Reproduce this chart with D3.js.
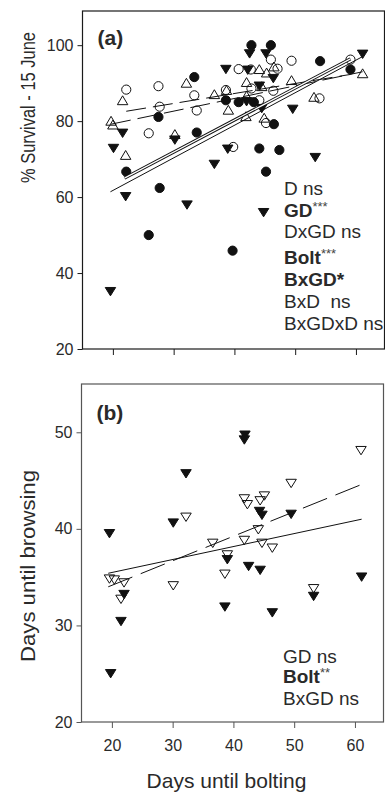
<!DOCTYPE html>
<html><head><meta charset="utf-8">
<script src="https://cdn.jsdelivr.net/npm/d3@7"></script>
<style>body{margin:0;background:#fff} svg{display:block}</style>
</head><body>
<svg id="c" width="385" height="792"></svg>
<script>
// ---------- data ----------
const xTickValues = [20, 30, 40, 50, 60];
const yTicksA = [20, 40, 60, 80, 100];
const yTicksB = [20, 30, 40, 50];

// Panel (a): % survival vs days until bolting
const filledCirclesA = [[22.2,66.7],[25.9,50],[27.5,81.1],[27.7,62.4],[33.4,91.6],[33.8,77],[38.6,85.5],[39.7,45.9],[40.7,85],[42.8,100],[43.2,85],[44.1,72.8],[45.2,66.7],[46,100],[46.5,79.2],[47.4,72.4],[54.1,95.8],[59.1,93.6]];
const openCirclesA = [[22.2,88.3],[25.9,76.8],[27.5,89.2],[27.7,83.8],[33.4,86.8],[33.8,82.8],[38.6,88.2],[39.8,73.2],[40.7,93.7],[42.7,93.6],[42.8,88.6],[44.1,85.5],[45.2,79.5],[46,96.2],[46.4,88],[47.1,93.8],[49.4,95.9],[54,86],[59.1,96.2]];
const openTrianglesA = [[19.7,80.1],[20.0,79.1],[22.1,71.1],[21.6,85.5],[30.2,76.6],[32.1,90.1],[36.7,87.1],[38.7,88.2],[39,83],[42,90.3],[42,86.7],[41.9,81.3],[44.1,93.7],[44.5,89.2],[44.9,80.9],[45.3,92.8],[46.5,94.4],[49.4,90.8],[53.1,86.4],[61.1,92.6]];
const filledTrianglesA = [[19.6,35.1],[20.1,72.8],[21.6,76.8],[22.1,60.1],[30.2,75],[32.2,57.9],[36.7,68.6],[38.6,93.6],[38.9,72.6],[42,85.1],[42.2,93.4],[42.5,97.7],[44.1,89.2],[44.5,83.3],[44.8,55.9],[45.2,97.7],[46.4,91.2],[49.6,83.1],[53.3,70.4],[61.1,97.6]];
const fitFilledCirclesA = [[21.9,65.0],[59.1,96.4]];
const fitFilledTrianglesA = [[19.6,61.4],[61.1,97.0]];
const fitOpenCirclesA = [[22.2,82.6],[59.1,92.3]];
const fitOpenTrianglesA = [[19.7,79.2],[61.1,93.0]];
const statsA = [
  [["D ns", false]],
  [["GD", true], ["***", false, true]],
  [["DxGD ns", false]],
  [["Bolt", true], ["***", false, true]],
  [["BxGD*", true]],
  [["BxD\u00a0\u00a0ns", false]],
  [["BxGDxD ns", false]]
];

// Panel (b): days until browsing vs days until bolting
const filledTrianglesB = [[41.9,49.7],[41.8,49.2],[32.2,45.7],[44.3,41.8],[44.7,41.4],[49.5,41.5],[30.1,40.6],[19.6,39.5],[39,36.8],[42.5,36.1],[44.4,35.7],[22,33.2],[61.1,35],[53.2,33],[38.6,31.9],[46.4,31.3],[21.5,30.4],[19.8,25]];
const openTrianglesB = [[61,48.1],[49.5,44.7],[41.8,43.1],[42.3,42.5],[44.4,42.9],[45.1,43.4],[32.2,41.2],[44.1,39.9],[36.6,38.5],[41.8,38.8],[44.7,38.5],[46.4,38],[39,37.3],[38.6,35.3],[19.6,34.8],[20.4,34.7],[22,34.4],[21.5,32.7],[30.1,34.1],[53.2,33.8]];
const fitFilledB = [[19.4,35.4],[61.1,41.0]];
const fitOpenB = [[19.4,34.0],[61.1,44.6]];
const statsB = [
  [["GD ns", false]],
  [["Bolt", true], ["**", false, true]],
  [["BxGD ns", false]]
];

// ---------- drawing ----------
const FONT = "'Liberation Sans', Arial, Helvetica, sans-serif";
const TXT = "#2a2a2a";
const svg = d3.select("#c").style("font-family", FONT);

const triUp = { draw(ctx, size) { const hw = Math.sqrt(size)*0.58, h = hw*1.7;
  ctx.moveTo(0, -h/2); ctx.lineTo(hw, h/2); ctx.lineTo(-hw, h/2); ctx.closePath(); } };
const triDown = { draw(ctx, size) { const hw = Math.sqrt(size)*0.58, h = hw*1.6;
  ctx.moveTo(-hw, -h/2); ctx.lineTo(hw, -h/2); ctx.lineTo(0, h/2); ctx.closePath(); } };

function panel(cfg) {
  const g = svg.append("g");
  const x = d3.scaleLinear().domain([15, 64.7]).range([cfg.left, cfg.right]);
  const y = d3.scaleLinear().domain(cfg.ydom).range([cfg.bottom, cfg.top]);

  g.append("rect").attr("x", cfg.left).attr("y", cfg.top)
    .attr("width", cfg.right - cfg.left).attr("height", cfg.bottom - cfg.top)
    .attr("fill", "none").attr("stroke", cfg.frame).attr("stroke-width", 1.2);

  const ya = g.append("g").attr("transform", `translate(${cfg.left},0)`)
    .call(d3.axisLeft(y).tickValues(cfg.yticks).tickSize(5).tickPadding(4));
  ya.select(".domain").remove();
  ya.selectAll("line").attr("stroke", cfg.frame);
  ya.selectAll("text").attr("font-size", 16).attr("fill", TXT).attr("font-family", FONT);

  const xa = g.append("g").attr("transform", `translate(0,${cfg.bottom})`)
    .call(d3.axisBottom(x).tickValues(xTickValues).tickSize(6).tickPadding(12)
      .tickFormat(cfg.xlabels ? d3.format("d") : () => ""));
  xa.select(".domain").remove();
  xa.selectAll("line").attr("stroke", cfg.frame);
  xa.selectAll("text").attr("font-size", 16).attr("fill", TXT).attr("font-family", FONT);

  const line = d3.line().x(d => x(d[0])).y(d => y(d[1]));
  const sym = d3.symbol();

  cfg.series.forEach(s => {
    g.append("g").selectAll("path").data(s.data).join("path")
      .attr("transform", d => `translate(${x(d[0])},${y(d[1])})`)
      .attr("d", sym.type(s.type).size(s.size)())
      .attr("fill", s.filled ? "#111" : "none")
      .attr("stroke", "#111").attr("stroke-width", 1);
  });

  cfg.fits.forEach(f => {
    if (f.double) {
      g.append("path").attr("d", line(f.data)).attr("stroke", "#111").attr("stroke-width", 3.3).attr("fill", "none");
      g.append("path").attr("d", line(f.data)).attr("stroke", "#fff").attr("stroke-width", 1.2).attr("fill", "none");
    } else {
      g.append("path").attr("d", line(f.data)).attr("stroke", "#111").attr("stroke-width", 1)
        .attr("fill", "none").attr("stroke-dasharray", f.dash || null);
    }
  });

  g.append("text").attr("x", cfg.left + 15).attr("y", cfg.top + cfg.letterDy)
    .attr("font-size", 21).attr("font-weight", "bold").attr("fill", TXT).text(cfg.letter);

  cfg.stats.forEach((parts, i) => {
    const t = g.append("text").attr("x", cfg.statX).attr("y", cfg.statY[i])
      .attr("font-size", 19).attr("fill", TXT);
    parts.forEach(p => {
      const ts = t.append("tspan").text(p[0]).attr("font-weight", p[1] ? "bold" : "normal");
      if (p[2]) ts.attr("font-size", 13).attr("dy", -6).attr("fill", "#444");
    });
  });

  g.append("text").attr("transform", `translate(${cfg.ytx},${cfg.yty}) rotate(-90)`)
    .attr("text-anchor", "middle").attr("font-size", 20).attr("fill", TXT)
    .attr("textLength", cfg.ytlen).attr("lengthAdjust", "spacingAndGlyphs").text(cfg.ytitle);
  return { x, y };
}

panel({
  left: 82.5, right: 384.5, top: 11, bottom: 349, ydom: [20, 109], yticks: yTicksA,
  frame: "#1a1a1a", xlabels: false, letter: "(a)", letterDy: 34,
  series: [
    { data: openTrianglesA, type: triUp, size: 81, filled: false },
    { data: openCirclesA, type: d3.symbolCircle, size: 66, filled: false },
    { data: filledTrianglesA, type: triDown, size: 81, filled: true },
    { data: filledCirclesA, type: d3.symbolCircle, size: 66, filled: true }
  ],
  fits: [
    { data: fitOpenCirclesA, dash: "20,7" },
    { data: fitOpenTrianglesA, dash: "20,7" },
    { data: fitFilledTrianglesA },
    { data: fitFilledCirclesA, double: true }
  ],
  stats: statsA, statX: 284, statY: [195, 216.7, 238.3, 263.5, 286, 308.3, 329.5],
  ytitle: "% Survival - 15 June", ytx: 35, yty: 107.5, ytlen: 151
});

panel({
  left: 81.5, right: 383.5, top: 384, bottom: 722, ydom: [20, 55], yticks: yTicksB,
  frame: "#555", xlabels: true, letter: "(b)", letterDy: 36,
  series: [
    { data: openTrianglesB, type: triDown, size: 81, filled: false },
    { data: filledTrianglesB, type: triDown, size: 81, filled: true }
  ],
  fits: [
    { data: fitOpenB, dash: "26,9" },
    { data: fitFilledB }
  ],
  stats: statsB, statX: 283, statY: [662.5, 683, 704.5],
  ytitle: "Days until browsing", ytx: 35, yty: 566, ytlen: 192
});

svg.append("text").attr("x", 226.5).attr("y", 788).attr("text-anchor", "middle")
  .attr("font-size", 21).attr("fill", TXT).text("Days until bolting");
</script>
</body></html>
